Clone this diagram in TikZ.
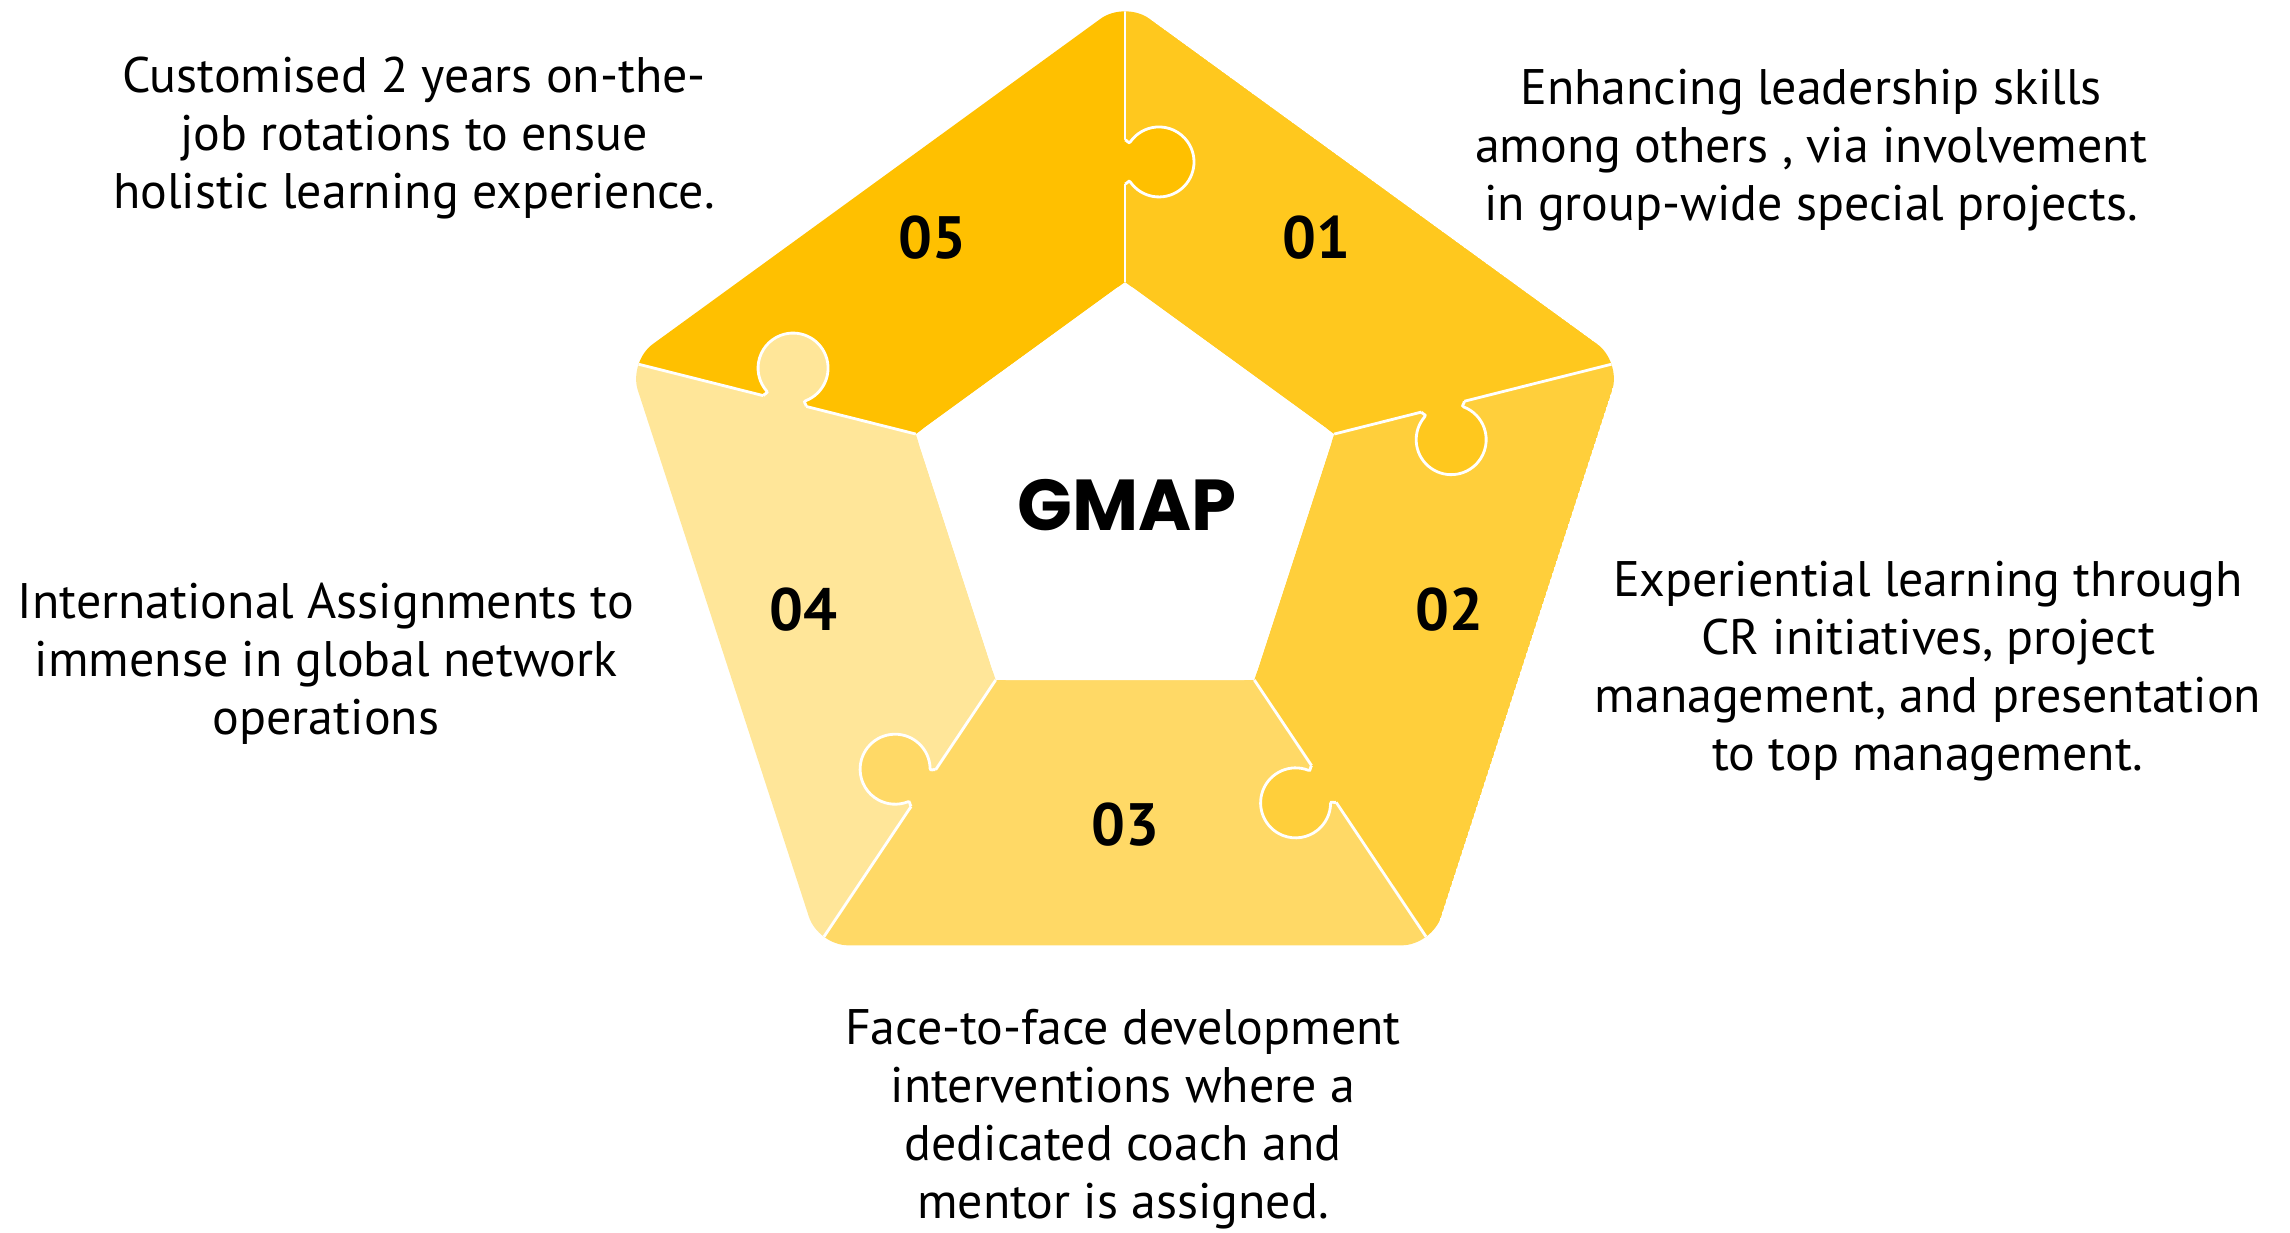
\documentclass[tikz,border=0pt]{standalone}
\usepackage{fontspec}
\setmainfont{PT Sans}
\newfontfamily\gmapfont{Poppins}
\usetikzlibrary{calc}
\definecolor{c1}{HTML}{FFC81E}
\definecolor{c2}{HTML}{FFCF3B}
\definecolor{c3}{HTML}{FFD966}
\definecolor{c4}{HTML}{FFE699}
\definecolor{c5}{HTML}{FFC000}
\tikzset{
  seam/.style={white, line width=0.8pt},
  blurb/.style={align=center, font=\fontsize{14.2}{16.5}\selectfont},
  num/.style={font=\fontsize{17}{20}\selectfont\bfseries},
}
\newcommand{\knob}{(-22,0) .. controls (-22,2) and (-17.6,3.6) .. (-20.07,5.33) arc[start angle=235, end angle=-55, radius=35] .. controls (17.6,3.6) and (22,2) .. (22,0)}

\begin{document}
\begin{tikzpicture}[x=0.01cm, y=-0.01cm]
  \useasboundingbox (0,0) rectangle (2290,1232);

  % Centres of the two pentagons
  \coordinate (ci) at (1125,502);
  \coordinate (co) at (1125,523);

  % Corners, clockwise from the top
  \foreach \k/\a in {1/-90, 2/-18, 3/54, 4/126, 5/198} {
    \coordinate (i\k) at ($(ci)+(\a:220)$);
    \coordinate (o\k) at ($(co)+(\a:522)$);
  }

  \begin{scope}
    \clip[rounded corners=3mm] (o1) -- (o2) -- (o3) -- (o4) -- (o5) -- cycle;

    % Pieces
    \foreach \k/\n in {1/2, 2/3, 3/4, 4/5, 5/1}
      \fill[c\k] (i\k) -- (o\k) -- (o\n) -- (i\n) -- cycle;

    % Seams
    \foreach \k in {1,...,5}
      \draw[seam] (i\k) -- (o\k);

    % Knobs, each piece pushes into the next one
    \foreach \k/\p/\s/\r in {1/5/1.20cm/90, 2/1/1.12cm/14.1, 3/2/1.25cm/-56.2, 4/3/1.30cm/236.2, 5/4/1.35cm/165.9} {
      \begin{scope}[shift={($(i\k)!\s!(o\k)$)}, rotate=\r]
        \fill[c\p] (-22,-3) -- \knob -- (22,-3) -- cycle;
        \draw[seam] \knob;
      \end{scope}
    }
  \end{scope}

  % Hole in the middle
  \fill[white, rounded corners=1mm] (i1) -- (i2) -- (i3) -- (i4) -- (i5) -- cycle;
  \node[font=\gmapfont\fontsize{20.5}{24}\selectfont\bfseries] (hub) at (1127,505) {GMAP};

  % Numbers
  \node[num] (n1) at (1316,238) {01};
  \node[num] (n2) at (1449,610) {02};
  \node[num] (n3) at (1125,825) {03};
  \node[num] (n4) at (803,610) {04};
  \node[num] (n5) at (932,238) {05};

  % Texts
  \node[blurb] (t1) at (1811,150) {Enhancing leadership skills\\among others , via involvement\\in group-wide special projects.};
  \node[blurb] (t2) at (1928,671) {Experiential learning through\\CR initiatives, project\\management, and presentation\\to top management.};
  \node[blurb] (t3) at (1123,1119) {Face-to-face development\\interventions where a\\dedicated coach and\\mentor is assigned.};
  \node[blurb] (t4) at (326,664) {International Assignments to\\immense in global network\\operations};
  \node[blurb] (t5) at (414,138) {Customised 2 years on-the-\\job rotations to ensue\\holistic learning experience.};
\end{tikzpicture}
\end{document}
